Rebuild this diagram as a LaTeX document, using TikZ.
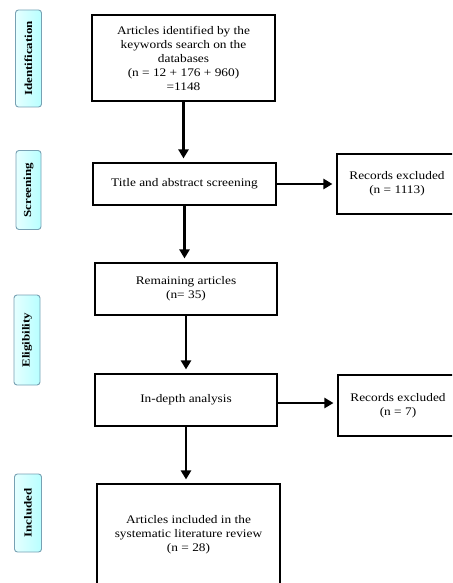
\documentclass[tikz,border=0pt]{standalone}
\usepackage{fontspec}
\setmainfont{Liberation Serif}[FakeStretch=1.15]
\newfontfamily\phasefont{Liberation Serif}[FakeStretch=1.2]
\usetikzlibrary{arrows.meta}

\begin{document}
\begin{tikzpicture}[
    x=1pt, y=-1pt,
    box/.style={draw, line width=1.1pt, align=center, inner sep=2pt,
        font=\fontsize{11.6}{14}\selectfont},
    phase/.style={draw=cyan!35!gray, line width=0.9pt, rounded corners=3pt,
        left color=cyan!10, right color=cyan!28, rotate=90, inner sep=0pt,
        font=\phasefont\bfseries\fontsize{10.8}{12}\selectfont},
    arr/.style={line width=2.2pt, -{Triangle[length=9pt, width=10pt]}, shorten >=4pt}
]
\clip (0,0) rectangle (452,583);
\fill[white] (0,0) rectangle (452,583);

\node[phase, minimum width=97pt, minimum height=26pt] (idf) at (28.5,58.5) {Identification};
\node[phase, minimum width=79pt, minimum height=25pt] (scr) at (28.5,190) {Screening};
\node[phase, minimum width=90pt, minimum height=26pt] (elg) at (27,340) {Eligibility};
\node[phase, minimum width=78pt, minimum height=27pt] (inc) at (28,513) {Included};

\node[box, minimum width=183pt, minimum height=86pt] (ident) at (183.5,58)
    {Articles identified by the\\keywords search on the\\databases\\(n = 12 + 176 + 960)\\=1148};
\node[box, minimum width=183pt, minimum height=42pt] (screen) at (184.5,184)
    {Title and abstract screening};
\node[box, minimum width=120pt, minimum height=60pt] (excl1) at (397,184)
    {Records excluded\\(n = 1113)};
\node[box, minimum width=182pt, minimum height=52pt] (remain) at (186,289)
    {Remaining articles\\(n= 35)};
\node[box, minimum width=182pt, minimum height=52pt] (depth) at (186,400)
    {In-depth analysis};
\node[box, minimum width=120pt, minimum height=61pt] (excl2) at (398,405.5)
    {Records excluded\\(n = 7)};
\node[box, minimum width=183pt, minimum height=101pt] (incl) at (188.5,534.5)
    {Articles included in the\\systematic literature review\\(n = 28)};

\draw[arr] (ident.south) -- (ident.south |- screen.north);
\draw[arr] (screen.south) -- (screen.south |- remain.north);
\draw[arr] (remain.south) -- (remain.south |- depth.north);
\draw[arr] (depth.south) -- (depth.south |- incl.north);
\draw[arr] (screen.east) -- (screen.east -| excl1.west);
\draw[arr] ([yshift=-3pt]depth.east) -- ([yshift=-3pt]depth.east -| excl2.west);
\end{tikzpicture}
\end{document}
